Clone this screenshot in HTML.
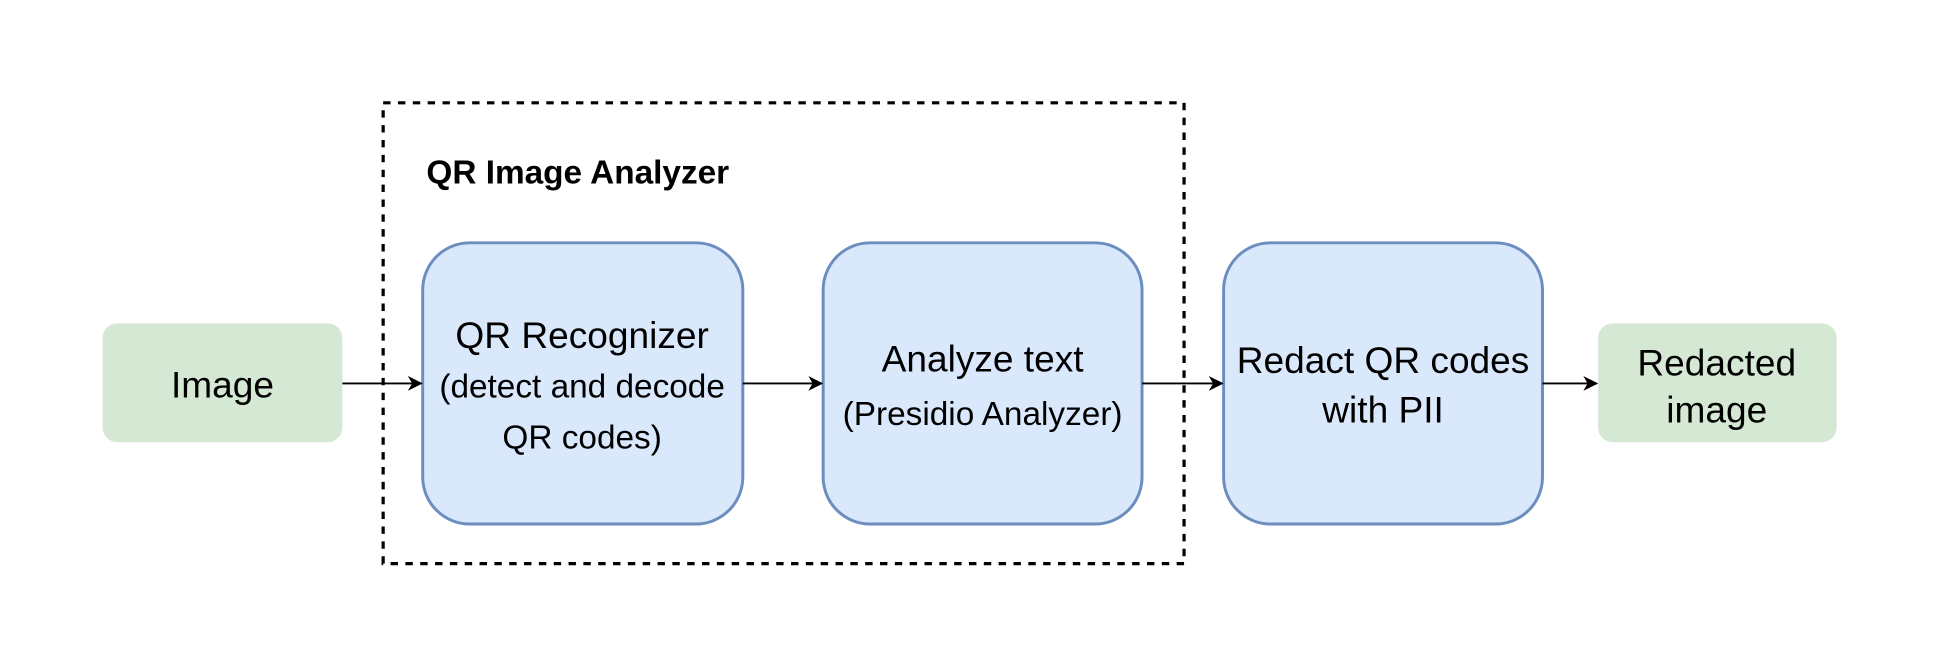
<!DOCTYPE html>
<html><head><meta charset="utf-8"><style>
html,body{margin:0;padding:0;background:#fff;width:1938px;height:664px;overflow:hidden}
svg{display:block}
text{font-family:"Liberation Sans",sans-serif;fill:#000}
</style></head><body>
<svg width="1938" height="664" viewBox="0 0 1568 536" preserveAspectRatio="none" xmlns="http://www.w3.org/2000/svg">
<defs>
<marker id="a" markerWidth="12" markerHeight="12" refX="11" refY="6" orient="auto" markerUnits="userSpaceOnUse">
<path d="M0,0 L12,6 L0,12 L3.5,6 Z" fill="#000"/>
</marker>
</defs>
<rect x="310" y="83" width="648" height="372" fill="none" stroke="#000" stroke-width="2.6" stroke-dasharray="6 6"/>
<text x="345" y="148" font-size="27" font-weight="bold">QR Image Analyzer</text>

<rect x="83" y="261" width="194" height="96" rx="12" fill="#d5e8d4"/>
<rect x="1293" y="261" width="193" height="96" rx="12" fill="#d5e8d4"/>
<rect x="342" y="196" width="259" height="227" rx="38" fill="#dae8fc" stroke="#6c8ebf" stroke-width="2.4"/>
<rect x="666" y="196" width="258" height="227" rx="38" fill="#dae8fc" stroke="#6c8ebf" stroke-width="2.4"/>
<rect x="990" y="196" width="258" height="227" rx="38" fill="#dae8fc" stroke="#6c8ebf" stroke-width="2.4"/>

<g stroke="#000" stroke-width="1.5" fill="none">
<line x1="277" y1="309.5" x2="341" y2="309.5" marker-end="url(#a)"/>
<line x1="601" y1="309.5" x2="665" y2="309.5" marker-end="url(#a)"/>
<line x1="924" y1="309.5" x2="989" y2="309.5" marker-end="url(#a)"/>
<line x1="1248" y1="309.5" x2="1292" y2="309.5" marker-end="url(#a)"/>
</g>

<g text-anchor="middle">
<text x="180" y="321" font-size="30">Image</text>
<text x="1389" y="303" font-size="30">Redacted</text>
<text x="1389" y="341" font-size="30">image</text>
<text x="471" y="281" font-size="30">QR Recognizer</text>
<text x="471" y="321" font-size="27">(detect and decode</text>
<text x="471" y="362" font-size="27">QR codes)</text>
<text x="795" y="300" font-size="30">Analyze text</text>
<text x="795" y="343" font-size="27">(Presidio Analyzer)</text>
<text x="1119" y="301" font-size="30">Redact QR codes</text>
<text x="1119" y="341" font-size="30">with PII</text>
</g>
</svg>
</body></html>
